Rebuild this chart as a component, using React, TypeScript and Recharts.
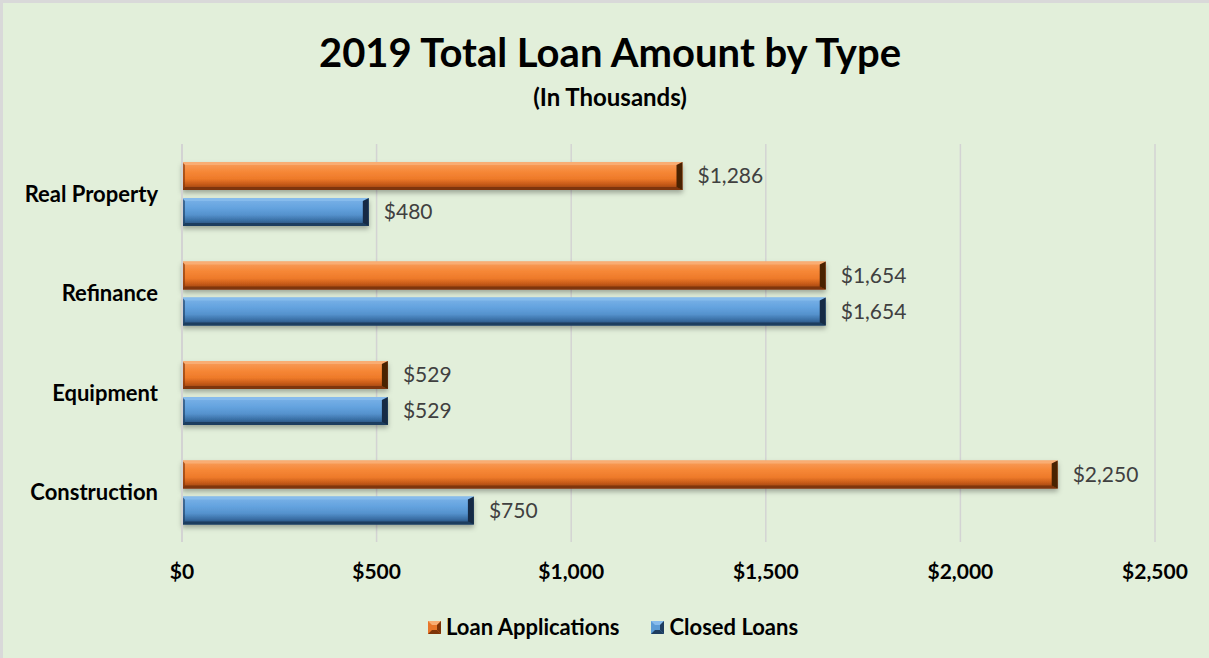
import React from 'react';
import { BarChart, Bar, XAxis, YAxis, CartesianGrid, LabelList } from 'recharts';

const categories = ['Real Property', 'Refinance', 'Equipment', 'Construction'];
const loanApplications = [1286, 1654, 529, 2250];
const closedLoans = [480, 1654, 529, 750];
const xTicks = [0, 500, 1000, 1500, 2000, 2500];

const data = categories.map((c, i) => ({
  name: c,
  apps: loanApplications[i],
  closed: closedLoans[i],
}));

const FONT = 'Lato, "Open Sans", sans-serif';
const fmt = (v: number) => '$' + v.toLocaleString('en-US');

const makeShape = (grad: string, light: string, dark: string, cap: string) => (props: any) => {
  const { x, y, width, height } = props;
  if (!width || width <= 0) return <g />;
  const b = 3;
  const c = 6;
  return (
    <g filter="url(#barShadow)">
      <rect x={x} y={y} width={width} height={height} fill={`url(#${grad})`} />
      <polygon points={`${x},${y} ${x + width},${y} ${x + width - c},${y + b} ${x + b},${y + b}`} fill={light} />
      <polygon points={`${x},${y + height} ${x + width},${y + height} ${x + width - c},${y + height - b} ${x + b},${y + height - b}`} fill={dark} />
      <polygon points={`${x + width - c},${y + b} ${x + width},${y} ${x + width},${y + height} ${x + width - c},${y + height - b}`} fill={cap} />
      <polygon points={`${x},${y} ${x + b},${y + b} ${x + b},${y + height - b} ${x},${y + height}`} fill={dark} opacity={0.6} />
    </g>
  );
};

const orangeShape = makeShape('gradO', '#f9ad73', '#7e3408', '#4a2006');
const blueShape = makeShape('gradB', '#86bbec', '#1d3c5e', '#152c45');

const LegendIcon = ({ grad }: { grad: 'o' | 'b' }) => {
  const main = grad === 'o' ? '#e8762a' : '#5b9bd5';
  const dark = grad === 'o' ? '#7e3408' : '#1d3c5e';
  const light = grad === 'o' ? '#f9ad73' : '#86bbec';
  return (
    <svg width={13} height={13} style={{ display: 'block' }}>
      <rect x={0} y={0} width={13} height={13} fill={main} />
      <polygon points="0,0 13,0 9,4 4,4" fill={light} />
      <polygon points="0,13 13,13 9,9 4,9" fill={dark} />
      <polygon points="13,0 13,13 9,9 9,4" fill={dark} />
    </svg>
  );
};

export default function App() {
  return (
    <div
      style={{
        position: 'absolute',
        left: 0,
        top: 0,
        width: 1209,
        height: 658,
        background: '#e2efda',
        borderTop: '3px solid #d9d9d9',
        borderLeft: '3px solid #d9d9d9',
        boxSizing: 'border-box',
        overflow: 'hidden',
      }}
    >
      <svg width={1209} height={130} style={{ position: 'absolute', left: -3, top: -3 }}>
        <text x={610} y={67} textAnchor="middle" fontFamily={FONT} fontWeight={700} fontSize={40} fill="#000">
          2019 Total Loan Amount by Type
        </text>
        <text x={610} y={106} textAnchor="middle" fontFamily={FONT} fontWeight={700} fontSize={24} fill="#000">
          (In Thousands)
        </text>
      </svg>
      <div style={{ position: 'absolute', left: -3, top: -3 }}>
        <BarChart
          width={1209}
          height={658}
          data={data}
          layout="vertical"
          margin={{ top: 144, right: 54, bottom: 0, left: 0 }}
          barSize={28}
          barGap={8}
        >
          <defs>
            <linearGradient id="gradO" x1="0" y1="0" x2="0" y2="1">
              <stop offset="0%" stopColor="#f8a060" />
              <stop offset="35%" stopColor="#f68736" />
              <stop offset="60%" stopColor="#ee7a2a" />
              <stop offset="80%" stopColor="#c65a18" />
              <stop offset="100%" stopColor="#8e3d0c" />
            </linearGradient>
            <linearGradient id="gradB" x1="0" y1="0" x2="0" y2="1">
              <stop offset="0%" stopColor="#7cb3e8" />
              <stop offset="35%" stopColor="#64a3df" />
              <stop offset="60%" stopColor="#5592cd" />
              <stop offset="80%" stopColor="#3a6fa5" />
              <stop offset="100%" stopColor="#22466e" />
            </linearGradient>
            <filter id="barShadow" x="-5%" y="-30%" width="110%" height="180%">
              <feDropShadow dx={0} dy={3} stdDeviation={2.5} floodColor="#000" floodOpacity={0.3} />
            </filter>
          </defs>
          <CartesianGrid horizontal={false} stroke="#d3d3d3" strokeWidth={1.5} />
          <XAxis
            type="number"
            domain={[0, 2500]}
            ticks={xTicks}
            tickFormatter={fmt}
            axisLine={false}
            tickLine={false}
            tickSize={0}
            tickMargin={22}
            height={116}
            interval={0}
            tick={{ fontFamily: FONT, fontWeight: 700, fontSize: 21, fill: '#000' }}
          />
          <YAxis
            type="category"
            dataKey="name"
            width={182}
            axisLine={{ stroke: '#d3d3d3', strokeWidth: 2 }}
            tickLine={false}
            tickSize={0}
            tickMargin={24}
            tick={{ fontFamily: FONT, fontWeight: 700, fontSize: 22, fill: '#000' }}
          />
          <Bar dataKey="apps" name="Loan Applications" fill="#ed7d31" shape={orangeShape} isAnimationActive={false}>
            <LabelList dataKey="apps" position="right" offset={15} formatter={fmt} style={{ fontFamily: FONT, fontSize: 21, fill: '#404040' }} />
          </Bar>
          <Bar dataKey="closed" name="Closed Loans" fill="#5b9bd5" shape={blueShape} isAnimationActive={false}>
            <LabelList dataKey="closed" position="right" offset={15} formatter={fmt} style={{ fontFamily: FONT, fontSize: 21, fill: '#404040' }} />
          </Bar>
        </BarChart>
      </div>
      <div
        style={{
          position: 'absolute',
          left: 425,
          top: 609,
          display: 'flex',
          alignItems: 'center',
          fontFamily: FONT,
          fontWeight: 700,
          fontSize: 22,
          lineHeight: '30px',
          color: '#000',
          whiteSpace: 'nowrap',
        }}
      >
        <div style={{ display: 'flex', alignItems: 'center', marginRight: 32 }}>
          <LegendIcon grad="o" />
          <span style={{ marginLeft: 5 }}>Loan Applications</span>
        </div>
        <div style={{ display: 'flex', alignItems: 'center' }}>
          <LegendIcon grad="b" />
          <span style={{ marginLeft: 5 }}>Closed Loans</span>
        </div>
      </div>
    </div>
  );
}
